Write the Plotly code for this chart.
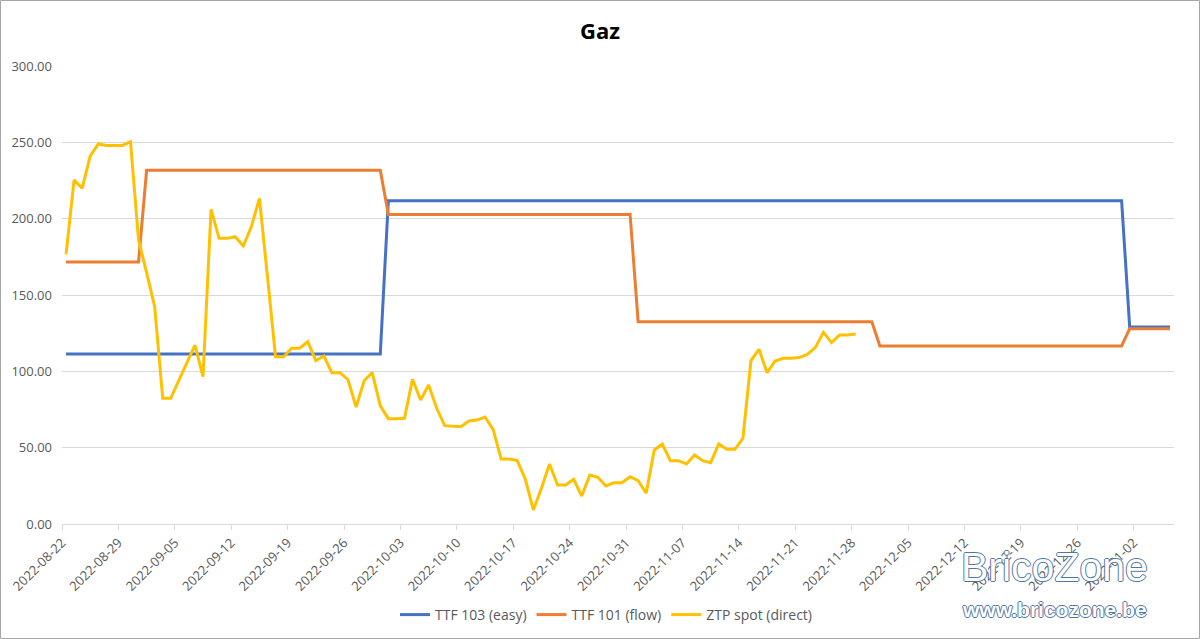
import pandas as pd
import plotly.graph_objects as go

# ---- data ----
ttf103_dates = ["2022-08-22", "2022-09-30", "2022-10-01", "2022-12-31", "2023-01-01", "2023-01-06"]
ttf103_values = [111.4, 111.4, 211.8, 211.8, 129.0, 129.0]

ttf101_dates = ["2022-08-22", "2022-08-31", "2022-09-01", "2022-09-30", "2022-10-01", "2022-10-31",
                "2022-11-01", "2022-11-30", "2022-12-01", "2022-12-31", "2023-01-01", "2023-01-06"]
ttf101_values = [171.6, 171.6, 231.7, 231.7, 202.8, 202.8, 132.5, 132.5, 116.6, 116.6, 127.9, 127.9]

ztp_start = "2022-08-22"
ztp_values = [
    176.6, 225.3, 219.9, 241.0, 248.9, 248.0, 248.0, 248.0, 250.4, 186.0,
    164.6, 142.4, 82.3, 82.3, 94.0, 105.6, 117.2, 96.5, 206.1, 187.1,
    187.1, 188.2, 182.1, 194.8, 213.3, 162.0, 109.6, 109.6, 115.1, 115.1,
    119.4, 107.0, 110.0, 99.1, 99.1, 94.5, 76.6, 93.8, 99.2, 77.4,
    69.0, 68.9, 69.2, 94.8, 81.2, 91.0, 75.8, 64.4, 64.3, 63.7,
    67.5, 68.1, 70.1, 62.0, 42.6, 42.6, 41.5, 29.3, 9.2, 23.4,
    39.3, 25.5, 25.5, 29.3, 18.3, 32.1, 30.6, 24.9, 27.1, 27.1,
    31.0, 28.4, 20.1, 48.5, 52.4, 41.5, 41.5, 39.3, 45.2, 41.5,
    40.2, 52.4, 48.9, 48.9, 56.1, 107.0, 114.4, 99.1, 106.8, 108.5,
    108.5, 109.0, 111.1, 115.7, 125.5, 118.8, 123.8, 123.8, 124.5,
]

series_names = ["TTF 103 (easy)", "TTF 101 (flow)", "ZTP spot (direct)"]
series_colors = ["#4472C4", "#ED7D31", "#FFC000"]

# Excel date axis: points sit in the middle of each day slot
half_day = pd.Timedelta(hours=12)
x_103 = pd.to_datetime(ttf103_dates) + half_day
x_101 = pd.to_datetime(ttf101_dates) + half_day
x_ztp = pd.date_range(ztp_start, periods=len(ztp_values), freq="D") + half_day

FONT = "Open Sans, Lato, sans-serif"
GRAY = "#595959"

fig = go.Figure()
for xs, ys, name, col in [
    (x_103, ttf103_values, series_names[0], series_colors[0]),
    (x_101, ttf101_values, series_names[1], series_colors[1]),
    (x_ztp, ztp_values, series_names[2], series_colors[2]),
]:
    fig.add_trace(go.Scatter(x=xs, y=ys, mode="lines", name=name,
                             line=dict(color=col, width=3)))

W, H = 1200, 639
L, R, T, B = 62, 26, 66, 115
pw, ph = W - L - R, H - T - B

fig.update_layout(
    width=W, height=H,
    margin=dict(l=L, r=R, t=T, b=B, autoexpand=False),
    paper_bgcolor="white", plot_bgcolor="white",
    font=dict(family=FONT, color=GRAY, size=13),
    title=dict(text="<b>Gaz</b>", x=0.5, xanchor="center", y=1 - 31 / H, yanchor="middle",
               font=dict(family=FONT, size=22, color="#000000")),
    showlegend=True,
    legend=dict(orientation="h", x=(606 - L) / pw, xanchor="center",
                y=-(615 - (H - B)) / ph, yanchor="middle",
                font=dict(size=14, color=GRAY), bgcolor="rgba(0,0,0,0)"),
    xaxis=dict(
        type="date", automargin=False,
        range=["2022-08-22", "2023-01-07"],
        tick0="2022-08-22", dtick=7 * 86400000,
        tickformat="%Y-%m-%d", tickangle=-45,
        showgrid=False, showline=True, linecolor="#d9d9d9", linewidth=1,
        ticks="outside", ticklen=5, tickcolor="#d9d9d9",
        tickfont=dict(size=13, color=GRAY),
        zeroline=False,
    ),
    yaxis=dict(
        automargin=False,
        range=[0, 300], dtick=50, tickformat=".2f",
        showgrid=True, gridcolor="#d9d9d9", gridwidth=1,
        showline=False, zeroline=False, ticks="",
        ticklabelstandoff=9,
        tickfont=dict(size=13, color=GRAY),
    ),
)

# outer border of the chart
fig.add_shape(type="rect", xref="paper", yref="paper",
              x0=-L / pw + 0.5 / pw, x1=1 + (R - 0.5) / pw,
              y0=-(B - 0.5) / ph, y1=1 + (T - 0.5) / ph,
              line=dict(color="#a6a6a6", width=1), fillcolor="rgba(0,0,0,0)", layer="above")

# watermark
outline = "1px 0 0 #4f76a3, -1px 0 0 #4f76a3, 0 1px 0 #4f76a3, 0 -1px 0 #4f76a3"
wm_x = (1054 - L) / pw
fig.add_annotation(text="BricoZone", xref="paper", yref="paper", x=wm_x, y=-(567 - (H - B)) / ph,
                   xanchor="center", yanchor="middle", showarrow=False,
                   font=dict(family="Liberation Sans, Arial, sans-serif", size=41, color="white",
                             shadow=outline))
fig.add_annotation(text="<b>www.bricozone.be</b>", xref="paper", yref="paper", x=wm_x,
                   y=-(609 - (H - B)) / ph, xanchor="center", yanchor="middle", showarrow=False,
                   font=dict(family="Liberation Sans, Arial, sans-serif", size=21, color="white",
                             shadow=outline))

fig.write_html("out.html")
